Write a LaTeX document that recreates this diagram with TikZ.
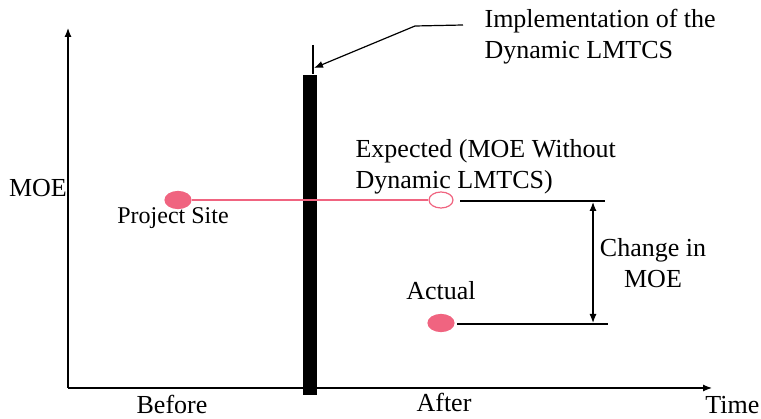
\documentclass[tikz,border=0pt]{standalone}
\usepackage{fontspec}
\setmainfont{Liberation Serif}
\usetikzlibrary{positioning}
\usetikzlibrary{arrows.meta,shapes}
\definecolor{moepink}{RGB}{240,100,128}

\begin{document}
\begin{tikzpicture}[x=1pt,y=-1pt,>={Latex[length=9pt,width=7pt]},line width=1.2pt,font=\fontsize{26}{31}\selectfont]
\tikzstyle{label}=[inner sep=0pt,align=left]

\tikzstyle{site}=[ellipse,
  fill=moepink,draw=moepink,
  minimum width=26,
  minimum height=17,
  inner sep=0pt
]

\tikzstyle{hollow}=[ellipse,line width=1.2pt,
  fill=white,draw=moepink,
  minimum width=24,
  minimum height=16,
  inner sep=0pt
]

\useasboundingbox (0,0) rectangle (761,419);

% axes
\coordinate (O) at (68,388);
\coordinate (ytop) at (68,28);
\coordinate (xend) at (712,388);
\draw[->] (O) -- (ytop);
\draw[->] (O) -- (xend);

% implementation bar
\node[fill=black,minimum width=14,minimum height=320,inner sep=0pt] (bar) at (310,235) {};
\coordinate (bartop) at (313,45);
\draw (bartop) -- (bartop |- bar.north);

\node[label,anchor=west] (impl) at (484,37) {Implementation of the\\Dynamic LMTCS};
\coordinate (leadR) at (463,25);
\coordinate (leadL) at (415,26);
\coordinate (tip) at (314,68);
\draw[->] (leadR) -- (leadL) -- (tip);

% points
\node[site]   (site)     at (178,200) {};
\node[hollow] (expected) at (441,200) {};
\node[site]   (actual)   at (441,323) {};
\draw[moepink] (site.east) -- (expected.west);

\node[label,font=\fontsize{24}{28}\selectfont] (sitelbl) at (173,218) {Project Site};
\node[label,anchor=west] (explbl) at (355,167) {Expected (MOE Without\\Dynamic LMTCS)};
\node[label,above=14pt of actual] (actlbl) {Actual};
\node[label] (moe) at (38,188) {MOE};

% change in MOE
\coordinate (e1) at (460,201);
\coordinate (e2) at (605,201);
\coordinate (a1) at (457,324);
\coordinate (a2) at (608,324);
\draw (e1) -- (e2);
\draw (a1) -- (a2);
\coordinate (chgtop) at (593,202);
\coordinate (chgbot) at (593,323);
\draw[<->] (chgtop) -- (chgbot);
\node[label,align=center] (chg) at (653,263) {Change in\\MOE};

% time labels
\node[label] (before) at (172,404) {Before};
\node[label] (after)  at (444,402) {After};
\node[label,anchor=east] (time) at (760,405) {Time};
\end{tikzpicture}
\end{document}
